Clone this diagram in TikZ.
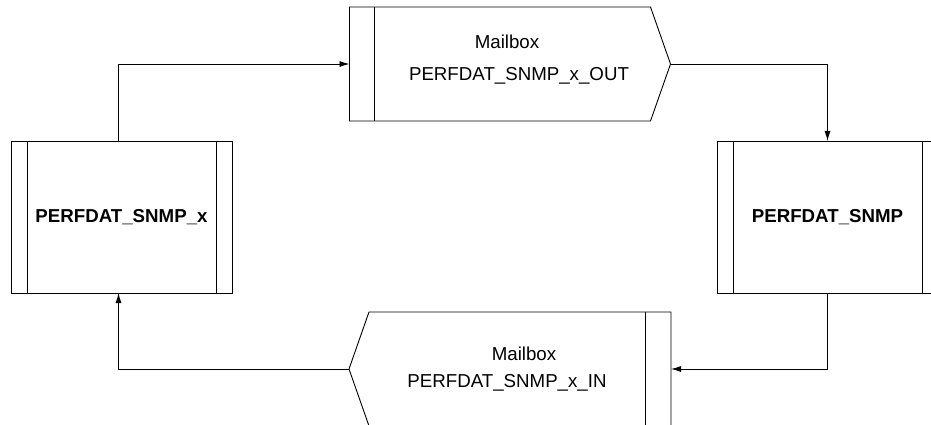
\documentclass[tikz,border=0pt]{standalone}
\usepackage{fontspec}
\setmainfont{Liberation Sans}
\usetikzlibrary{arrows.meta}

\begin{document}
\begin{tikzpicture}[x=1pt, y=-1pt, line width=0.9pt,
  procbox/.style={draw, rectangle, outer sep=0pt, minimum width=221pt, minimum height=152pt, font=\fontsize{18.7}{27}\selectfont\bfseries},
  mailbox/.style={rectangle, outer sep=0pt, inner sep=0pt, minimum width=276pt, minimum height=114pt, align=center, font=\fontsize{18.7}{27}\selectfont},
  flow/.style={-{Latex[length=10pt,width=6pt]}}]
\path[use as bounding box, clip] (0,0) rectangle (931,425);
\node[procbox] (snmpx) at (121.5,217) {PERFDAT\_SNMP\_x};
\node[procbox] (snmp) at (827.5,217) {PERFDAT\_SNMP};
\foreach \n in {snmpx,snmp} {
  \draw ([xshift=16pt]\n.north west) -- ([xshift=16pt]\n.south west);
  \draw ([xshift=-16pt]\n.north east) -- ([xshift=-16pt]\n.south east);
}
\node[mailbox, text depth=12pt] (mbout) at (512.5,64) {Mailbox\hspace*{11pt}\\[5pt]\hspace*{13pt}PERFDAT\_SNMP\_x\_OUT};
\draw ([xshift=-25pt]mbout.north west) -- (mbout.north east) -- ([xshift=20pt]mbout.east)
  -- (mbout.south east) -- ([xshift=-25pt]mbout.south west) -- cycle;
\draw (mbout.north west) -- (mbout.south west);
\coordinate (outleft) at ([xshift=-25pt]mbout.west);
\coordinate (outtip) at ([xshift=20pt]mbout.east);
\node[mailbox] (mbin) at (507,369) {\hspace*{34pt}Mailbox\\PERFDAT\_SNMP\_x\_IN};
\draw (mbin.north west) -- ([xshift=26pt]mbin.north east) -- ([xshift=26pt]mbin.south east)
  -- (mbin.south west) -- ([xshift=-20pt]mbin.west) -- cycle;
\draw (mbin.north east) -- (mbin.south east);
\coordinate (inright) at ([xshift=26pt]mbin.east);
\coordinate (intip) at ([xshift=-20pt]mbin.west);
\draw[flow] ([xshift=-3pt]snmpx.north) |- (outleft);
\draw[flow] (outtip) -| (snmp.north);
\draw[flow] (snmp.south) |- (inright);
\draw[flow] (intip) -| ([xshift=-3pt]snmpx.south);
\end{tikzpicture}
\end{document}
